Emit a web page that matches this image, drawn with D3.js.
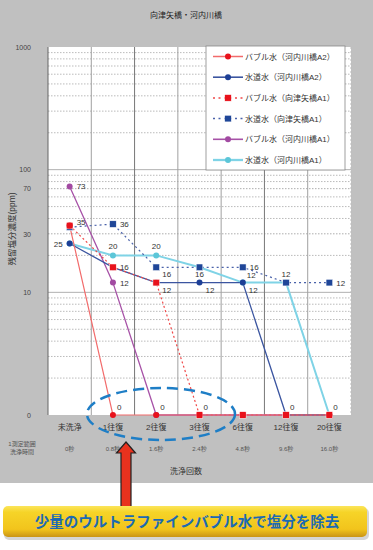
<!DOCTYPE html>
<html>
<head>
<meta charset="utf-8">
<script src="https://cdn.jsdelivr.net/npm/d3@7"></script>
<style>
  body { margin: 0; background: #fff; }
  svg text { font-family: "Liberation Sans", "Noto Sans CJK JP", sans-serif; }
</style>
</head>
<body>
<div id="chart"></div>
<script>
// categories (x) and wash time
var categories = ["未洗浄", "1往復", "2往復", "3往復", "6往復", "12往復", "20往復"];
var washTimes = ["0秒", "0.8秒", "1.6秒", "2.4秒", "4.8秒", "9.6秒", "16.0秒"];

// series names
var seriesNames = [
  "バブル水（河内川橋A2）",
  "水道水（河内川橋A2）",
  "バブル水（向津矢橋A1）",
  "水道水（向津矢橋A1）",
  "バブル水（河内川橋A1）",
  "水道水（河内川橋A1）"
];

// residual salt (ppm), 0 is drawn on the bottom line
var bubbleKawachiA2 = [35, 0, 0, 0, 0, 0, 0];
var tapKawachiA2 = [25, 16, 12, 12, 12, 0, 0];
var bubbleMukaiA1 = [35, 16, 12, 0, 0, 0, 0];
var tapMukaiA1 = [34, 36, 16, 16, 16, 12, 12];
var bubbleKawachiA1 = [73, 12, 0, 0, 0, 0, 0];
var tapKawachiA1 = [25, 20, 20, 16, 12, 12, 0];

var yTickValues = [1000, 100, 70, 30, 10, 0];

// which point gets a value label: [series, category, side]
var valueLabels = [
  [4, 0, "r"], [2, 0, "rt"], [5, 0, "l"],
  [3, 1, "r"], [5, 1, "t"], [2, 1, "r"], [4, 1, "r"],
  [5, 2, "t"], [3, 2, "rb"], [2, 2, "rb"],
  [3, 3, "b"], [1, 3, "rb"],
  [3, 4, "r"], [1, 4, "rb"],
  [5, 5, "t"], [3, 6, "r"],
  [0, 1, "z"], [4, 2, "z"], [2, 3, "z"], [1, 4, "z"], [1, 5, "z"], [5, 6, "z"]
];

(function () {
  'use strict'

  var seriesData = [bubbleKawachiA2, tapKawachiA2, bubbleMukaiA1, tapMukaiA1, bubbleKawachiA1, tapKawachiA1];
  var seriesStyle = [
    { line: "#f26b6b", mark: "#e8121c", shape: "circle", dash: null, w: 1.2 },
    { line: "#3b55a0", mark: "#1d3f96", shape: "circle", dash: null, w: 1.3 },
    { line: "#f04848", mark: "#e8121c", shape: "square", dash: "2,2.5", w: 1.2 },
    { line: "#4a62aa", mark: "#1f4698", shape: "square", dash: "2,3", w: 1.2 },
    { line: "#a752a7", mark: "#a24aa2", shape: "circle", dash: null, w: 1.3 },
    { line: "#7fd3e6", mark: "#5cc6d8", shape: "circle", dash: null, w: 2 }
  ];
  var drawOrder = [4, 5, 1, 3, 2, 0];

  var W = 373, H = 550;
  var margin = { top: 47, left: 48, right: 22, bottom: 135 };
  var plotW = W - margin.left - margin.right,
      plotH = H - margin.top - margin.bottom;

  var svg = d3.select("#chart").append("svg")
      .attr("width", W)
      .attr("height", H);

  var defs = svg.append("defs");
  var grad = defs.append("linearGradient").attr("id", "bannerGrad")
      .attr("x1", 0).attr("y1", 0).attr("x2", 0).attr("y2", 1);
  grad.append("stop").attr("offset", "0%").attr("stop-color", "#fbe55a");
  grad.append("stop").attr("offset", "20%").attr("stop-color", "#f6d428");
  grad.append("stop").attr("offset", "75%").attr("stop-color", "#f2c41c");
  grad.append("stop").attr("offset", "100%").attr("stop-color", "#c99416");

  // gray chart background
  svg.append("rect").attr("x", 0).attr("y", 0).attr("width", W).attr("height", 483).attr("fill", "#c0c0c0");

  svg.append("text")
      .attr("x", 186).attr("y", 18)
      .attr("text-anchor", "middle")
      .attr("font-size", 8).attr("fill", "#222")
      .text("向津矢橋・河内川橋");

  var g = svg.append("g").attr("transform", "translate(" + margin.left + "," + margin.top + ")");

  var x = d3.scaleBand().domain(categories).range([0, plotW]);
  var y = d3.scaleLog().domain([1, 1000]).range([plotH, 0]);
  function yv(v) { return y(v <= 0 ? 1 : v); }
  function xc(i) { return x(categories[i]) + x.bandwidth() / 2; }

  g.append("rect").attr("width", plotW).attr("height", plotH).attr("fill", "#fff");

  // minor log gridlines
  var minors = [];
  [1, 10, 100].forEach(function (dec) {
    for (var k = 2; k <= 9; k++) minors.push(dec * k);
  });
  g.append("g").selectAll("line")
      .data(minors)
      .enter().append("line")
      .attr("x1", 0).attr("x2", plotW)
      .attr("y1", function (d) { return y(d); })
      .attr("y2", function (d) { return y(d); })
      .attr("stroke", function (d) { return (d == 70 || d == 30) ? "#999" : "#aaa"; })
      .attr("stroke-width", 0.8)
      .attr("stroke-dasharray", "1.5,1.5");

  g.append("g").selectAll("line")
      .data([10, 100])
      .enter().append("line")
      .attr("x1", 0).attr("x2", plotW)
      .attr("y1", function (d) { return y(d); })
      .attr("y2", function (d) { return y(d); })
      .attr("stroke", "#b0b0b0").attr("stroke-width", 1);

  // vertical category gridlines
  g.append("g").selectAll("line")
      .data(categories.slice(1))
      .enter().append("line")
      .attr("x1", function (d) { return x(d); })
      .attr("x2", function (d) { return x(d); })
      .attr("y1", 0).attr("y2", plotH)
      .attr("stroke", function (d, i) { return i % 3 == 1 ? "#777" : "#a0a0a0"; })
      .attr("stroke-width", 1);

  g.append("line").attr("x1", 0).attr("x2", 0).attr("y1", 0).attr("y2", plotH)
      .attr("stroke", "#666").attr("stroke-width", 1);
  g.append("line").attr("x1", plotW).attr("x2", plotW).attr("y1", 0).attr("y2", plotH)
      .attr("stroke", "#bbb").attr("stroke-width", 1).attr("stroke-dasharray", "2,2");

  // y axis
  var yAxis = g.append("g")
      .call(d3.axisLeft(y).tickValues(yTickValues.map(function (v) { return v <= 0 ? 1 : v; }))
        .tickFormat(function (d, i) { return String(yTickValues[i]); })
        .tickSize(0).tickPadding(17));
  yAxis.select(".domain").remove();
  yAxis.selectAll("text").attr("font-size", 7).attr("fill", "#444")
      .attr("font-family", "Liberation Sans, sans-serif");

  svg.append("text")
      .attr("transform", "translate(15,229) rotate(-90)")
      .attr("text-anchor", "middle")
      .attr("font-size", 8.5).attr("fill", "#333")
      .text("残留塩分濃度(ppm)");

  // x axis labels
  var xAxis = g.append("g")
      .attr("transform", "translate(0," + plotH + ")")
      .call(d3.axisBottom(x).tickSize(0).tickPadding(9));
  xAxis.select(".domain").remove();
  xAxis.selectAll("text").attr("font-size", 8).attr("fill", "#333");

  g.append("g").selectAll("text")
      .data(washTimes)
      .enter().append("text")
      .attr("x", function (d, i) { return xc(i); })
      .attr("y", plotH + 36)
      .attr("text-anchor", "middle")
      .attr("font-size", 6).attr("fill", "#555")
      .text(function (d) { return d; });

  svg.append("text").attr("x", 22).attr("y", 446).attr("text-anchor", "middle")
      .attr("font-size", 6).attr("fill", "#555").text("1測定範囲");
  svg.append("text").attr("x", 22).attr("y", 454).attr("text-anchor", "middle")
      .attr("font-size", 6).attr("fill", "#555").text("洗浄時間");

  svg.append("text").attr("x", 186).attr("y", 474).attr("text-anchor", "middle")
      .attr("font-size", 8).attr("fill", "#333").text("洗浄回数");

  // lines
  var line = d3.line()
      .x(function (d, i) { return xc(i); })
      .y(function (d) { return yv(d); });

  drawOrder.forEach(function (s) {
    var st = seriesStyle[s];
    g.append("path")
        .datum(seriesData[s])
        .attr("d", line)
        .attr("fill", "none")
        .attr("stroke", st.line)
        .attr("stroke-width", st.w)
        .attr("stroke-dasharray", st.dash);
  });

  // markers
  function drawMark(sel, st, cx, cy) {
    if (st.shape == "circle") {
      sel.append("circle").attr("cx", cx).attr("cy", cy).attr("r", 3)
          .attr("fill", st.mark);
    } else {
      sel.append("rect").attr("x", cx - 3.3).attr("y", cy - 3.3)
          .attr("width", 6.6).attr("height", 6.6)
          .attr("fill", st.mark).attr("stroke", "#fff").attr("stroke-width", 0.5);
    }
  }
  drawOrder.forEach(function (s) {
    var st = seriesStyle[s];
    var mg = g.append("g");
    seriesData[s].forEach(function (v, i) {
      drawMark(mg, st, xc(i), yv(v));
    });
  });

  // value labels
  var off = {
    r: [7, 3, "start"], rt: [7, -1, "start"], l: [-7, 3, "end"],
    t: [0, -6, "middle"], b: [0, 10, "middle"], rb: [6, 10, "start"],
    z: [4, -5, "start"]
  };
  g.append("g").selectAll("text")
      .data(valueLabels)
      .enter().append("text")
      .attr("x", function (d) { return xc(d[1]) + off[d[2]][0]; })
      .attr("y", function (d) { return yv(seriesData[d[0]][d[1]]) + off[d[2]][1]; })
      .attr("text-anchor", function (d) { return off[d[2]][2]; })
      .attr("font-size", 8).attr("fill", "#333")
      .text(function (d) { return seriesData[d[0]][d[1]]; });

  // legend
  var lg = svg.append("g").attr("transform", "translate(206,46)");
  lg.append("rect").attr("width", 139).attr("height", 124)
      .attr("fill", "#fff").attr("stroke", "#888").attr("stroke-width", 0.8);
  seriesNames.forEach(function (name, s) {
    var st = seriesStyle[s];
    var ly = 10.5 + s * 20.7;
    lg.append("line").attr("x1", 7).attr("x2", 37).attr("y1", ly).attr("y2", ly)
        .attr("stroke", st.line).attr("stroke-width", st.w + 0.3)
        .attr("stroke-dasharray", st.dash ? "2,3.5" : null);
    drawMark(lg, st, 22, ly);
    lg.append("text").attr("x", 39).attr("y", ly + 3)
        .attr("font-size", 8).attr("fill", "#333").text(name);
  });

  // dashed ellipse highlight
  svg.append("ellipse")
      .attr("cx", 161).attr("cy", 414).attr("rx", 74).attr("ry", 26)
      .attr("fill", "none").attr("stroke", "#1e7ec6")
      .attr("stroke-width", 2.5).attr("stroke-dasharray", "11,6");

  // arrow
  svg.append("path")
      .attr("d", "M126,442 L135.5,453 L131,453 L131,512 L121,512 L121,453 L116.5,453 Z")
      .attr("fill", "#e8321e").attr("stroke", "#222").attr("stroke-width", 1.2)
      .attr("stroke-linejoin", "miter");

  // banner
  svg.append("rect").attr("x", 4).attr("y", 508).attr("width", 365).attr("height", 32)
      .attr("rx", 5).attr("fill", "#b9b9b9").attr("opacity", 0.6);
  svg.append("rect").attr("x", 3).attr("y", 506).attr("width", 364).attr("height", 31)
      .attr("rx", 5).attr("fill", "url(#bannerGrad)");
  svg.append("text").attr("x", 187).attr("y", 527)
      .attr("text-anchor", "middle")
      .attr("font-size", 14.5).attr("font-weight", "bold").attr("fill", "#1c6ab3")
      .attr("font-family", "Noto Sans CJK JP, sans-serif")
      .text("少量のウルトラファインバブル水で塩分を除去");
})()
</script>
</body>
</html>
